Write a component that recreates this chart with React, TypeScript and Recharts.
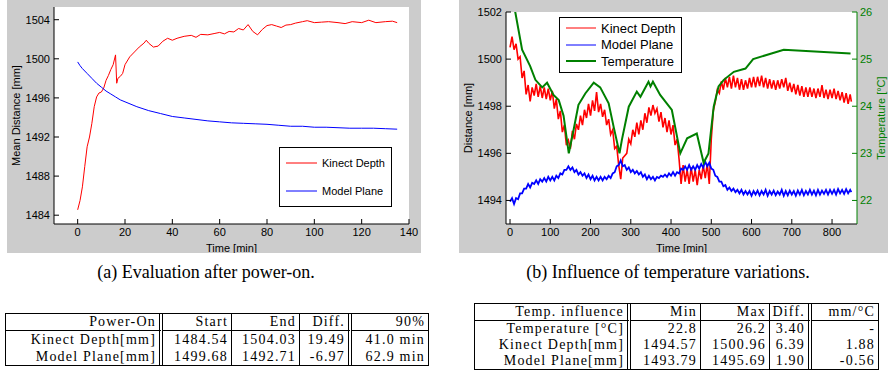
import { LineChart, Line, XAxis, YAxis, Legend } from 'recharts';

// (a) power-on run, [minute, mm]
const powerOnKinect: [number, number][] = [
  [0, 1484.55], [1, 1485.5], [2, 1486.9], [3, 1489.0], [4, 1491.0], [5, 1492.0], [6, 1493.4],
  [7, 1495.1], [8, 1496.1], [9, 1496.5], [10, 1496.6], [11, 1497.0], [12, 1497.8], [13, 1498.3],
  [14, 1498.9], [15, 1499.4], [16, 1500.4], [16.5, 1497.5], [17, 1498.0], [18, 1498.2], [19, 1498.5],
  [20, 1499.4], [22, 1500.2], [24, 1500.7], [26, 1501.2], [28, 1501.6], [29, 1501.9], [30, 1501.6],
  [32, 1501.2], [34, 1501.3], [36, 1501.8], [38, 1502.1], [40, 1501.9], [42, 1502.1], [45, 1502.3],
  [48, 1502.4], [50, 1502.2], [52, 1502.5], [55, 1502.45], [58, 1502.6], [60, 1502.7], [62, 1502.55],
  [64, 1502.8], [66, 1502.75], [68, 1503.1], [70, 1502.95], [72, 1503.5], [74, 1502.8], [76, 1502.45],
  [78, 1503.0], [80, 1503.4], [82, 1503.5], [84, 1503.35], [86, 1503.2], [88, 1503.45], [90, 1503.5],
  [92, 1503.65], [95, 1503.8], [97, 1503.9], [100, 1503.7], [103, 1503.75], [106, 1503.8],
  [110, 1503.7], [113, 1503.6], [116, 1503.8], [120, 1503.7], [123, 1503.95], [126, 1503.7],
  [130, 1503.8], [133, 1503.85], [135, 1503.7],
];

const powerOnModel: [number, number][] = [
  [0, 1499.68], [1, 1499.3], [2, 1499.0], [4, 1498.5], [6, 1498.0], [8, 1497.5], [10, 1497.1],
  [12, 1496.7], [14, 1496.4], [16, 1496.1], [18, 1495.8], [20, 1495.6], [25, 1495.1], [30, 1494.7],
  [35, 1494.4], [40, 1494.1], [45, 1493.95], [50, 1493.8], [55, 1493.65], [60, 1493.55],
  [65, 1493.45], [70, 1493.4], [75, 1493.35], [80, 1493.3], [85, 1493.2], [90, 1493.1],
  [95, 1493.1], [100, 1493.0], [105, 1493.0], [110, 1492.95], [115, 1492.9], [120, 1492.9],
  [125, 1492.9], [130, 1492.85], [135, 1492.8],
];

// (b) temperature run, [minute, mm] and [minute, °C]
const tempKinect: [number, number][] = [
  [0, 1500.5], [5, 1500.95], [10, 1500.4], [15, 1500.65], [20, 1500.0], [25, 1500.1], [30, 1499.2],
  [35, 1499.5], [40, 1498.5], [45, 1498.9], [50, 1498.2], [55, 1498.8], [60, 1498.45], [65, 1498.95],
  [70, 1498.4], [75, 1498.85], [80, 1498.35], [85, 1498.8], [90, 1498.3], [95, 1498.75], [100, 1498.25],
  [105, 1498.65], [110, 1497.9], [115, 1498.3], [120, 1497.45], [125, 1497.8], [130, 1496.9],
  [135, 1497.2], [140, 1496.35], [145, 1496.55], [150, 1496.2], [155, 1496.95], [160, 1496.6],
  [165, 1497.25], [170, 1497.0], [175, 1497.6], [180, 1497.2], [185, 1497.85], [190, 1497.5],
  [195, 1498.1], [200, 1497.6], [205, 1498.25], [210, 1497.8], [215, 1498.6], [220, 1497.75],
  [225, 1498.1], [230, 1497.55], [235, 1497.85], [240, 1497.2], [245, 1497.45], [250, 1496.8],
  [255, 1497.0], [260, 1496.2], [265, 1496.3], [270, 1495.5], [275, 1494.9], [280, 1495.8],
  [285, 1495.9], [290, 1496.0], [295, 1496.6], [300, 1496.4], [305, 1497.0], [310, 1496.7],
  [315, 1497.3], [320, 1496.8], [325, 1497.4], [330, 1497.0], [335, 1497.7], [340, 1497.3],
  [345, 1497.95], [350, 1497.6], [355, 1498.05], [360, 1497.7], [365, 1497.9], [370, 1497.35],
  [375, 1497.75], [380, 1497.1], [385, 1497.5], [390, 1496.9], [395, 1497.4], [400, 1496.8],
  [405, 1497.2], [410, 1496.35], [415, 1496.6], [420, 1495.75], [425, 1494.7], [430, 1495.5],
  [435, 1494.8], [440, 1495.3], [445, 1494.7], [450, 1495.4], [455, 1494.8], [460, 1495.3],
  [465, 1494.65], [470, 1495.3], [475, 1494.9], [480, 1495.5], [485, 1494.95], [490, 1495.55],
  [495, 1494.7], [500, 1496.6], [505, 1497.8], [510, 1498.2], [515, 1498.7], [520, 1498.55],
  [525, 1499.05], [530, 1498.7], [535, 1499.2], [540, 1498.8], [545, 1499.25], [550, 1498.75],
  [555, 1499.3], [560, 1498.8], [565, 1499.2], [570, 1498.7], [575, 1499.15], [580, 1498.7],
  [585, 1499.1], [590, 1498.75], [595, 1499.2], [600, 1498.8], [605, 1499.25], [610, 1498.8],
  [615, 1499.25], [620, 1498.85], [625, 1499.3], [630, 1498.8], [635, 1499.2], [640, 1498.75],
  [645, 1499.15], [650, 1498.75], [655, 1499.1], [660, 1498.7], [665, 1499.1], [670, 1498.75],
  [675, 1499.15], [680, 1498.8], [685, 1499.2], [690, 1498.65], [695, 1499.0], [700, 1498.6],
  [705, 1498.95], [710, 1498.5], [715, 1498.9], [720, 1498.45], [725, 1498.85], [730, 1498.4],
  [735, 1498.8], [740, 1498.4], [745, 1498.8], [750, 1498.4], [755, 1498.75], [760, 1498.35],
  [765, 1498.75], [770, 1498.4], [775, 1498.9], [780, 1498.35], [785, 1498.7], [790, 1498.3],
  [795, 1498.7], [800, 1498.35], [805, 1498.75], [810, 1498.3], [815, 1498.65], [820, 1498.25],
  [825, 1498.6], [830, 1498.15], [835, 1498.55], [840, 1498.1], [845, 1498.5], [848, 1498.2],
];

const tempModel: [number, number][] = [
  [0, 1493.95], [5, 1494.1], [10, 1493.85], [15, 1494.1], [20, 1494.05], [25, 1494.3], [30, 1494.3],
  [35, 1494.5], [40, 1494.5], [45, 1494.7], [50, 1494.55], [55, 1494.75], [60, 1494.7], [65, 1494.85],
  [70, 1494.7], [75, 1494.9], [80, 1494.8], [85, 1494.95], [90, 1494.8], [95, 1495.0], [100, 1494.85],
  [105, 1495.0], [110, 1494.85], [115, 1495.05], [120, 1494.95], [125, 1495.15], [130, 1495.1],
  [135, 1495.3], [140, 1495.3], [145, 1495.45], [150, 1495.3], [155, 1495.4], [160, 1495.2],
  [165, 1495.3], [170, 1495.1], [175, 1495.2], [180, 1495.05], [185, 1495.15], [190, 1494.95],
  [195, 1495.1], [200, 1494.9], [205, 1495.05], [210, 1494.85], [215, 1495.0], [220, 1494.85],
  [225, 1495.0], [230, 1494.85], [235, 1495.0], [240, 1494.9], [245, 1495.05], [250, 1494.95],
  [255, 1495.15], [260, 1495.2], [265, 1495.45], [270, 1495.5], [275, 1495.7], [280, 1495.45],
  [285, 1495.5], [290, 1495.3], [295, 1495.4], [300, 1495.2], [305, 1495.3], [310, 1495.15],
  [315, 1495.25], [320, 1495.1], [325, 1495.2], [330, 1495.0], [335, 1495.1], [340, 1494.9],
  [345, 1495.05], [350, 1494.9], [355, 1495.0], [360, 1494.85], [365, 1495.0], [370, 1494.95],
  [375, 1495.05], [380, 1495.0], [385, 1495.1], [390, 1495.0], [395, 1495.15], [400, 1495.05],
  [405, 1495.2], [410, 1495.05], [415, 1495.2], [420, 1495.15], [425, 1495.35], [430, 1495.3],
  [435, 1495.45], [440, 1495.3], [445, 1495.5], [450, 1495.3], [455, 1495.45], [460, 1495.3],
  [465, 1495.5], [470, 1495.35], [475, 1495.55], [480, 1495.4], [485, 1495.65], [490, 1495.45],
  [495, 1495.6], [500, 1495.35], [505, 1495.3], [510, 1495.05], [515, 1495.0], [520, 1494.8],
  [525, 1494.8], [530, 1494.6], [535, 1494.65], [540, 1494.45], [545, 1494.55], [550, 1494.4],
  [555, 1494.5], [560, 1494.35], [565, 1494.45], [570, 1494.3], [575, 1494.45], [580, 1494.25],
  [585, 1494.4], [590, 1494.25], [595, 1494.4], [600, 1494.2], [605, 1494.4], [610, 1494.25],
  [615, 1494.42], [620, 1494.22], [625, 1494.4], [630, 1494.25], [635, 1494.45], [640, 1494.2],
  [645, 1494.4], [650, 1494.25], [655, 1494.42], [660, 1494.22], [665, 1494.38], [670, 1494.25],
  [675, 1494.45], [680, 1494.2], [685, 1494.4], [690, 1494.22], [695, 1494.42], [700, 1494.25],
  [705, 1494.4], [710, 1494.2], [715, 1494.42], [720, 1494.25], [725, 1494.45], [730, 1494.22],
  [735, 1494.4], [740, 1494.25], [745, 1494.45], [750, 1494.25], [755, 1494.42], [760, 1494.22],
  [765, 1494.45], [770, 1494.25], [775, 1494.42], [780, 1494.28], [785, 1494.45], [790, 1494.25],
  [795, 1494.45], [800, 1494.28], [805, 1494.45], [810, 1494.25], [815, 1494.48], [820, 1494.3],
  [825, 1494.45], [830, 1494.28], [835, 1494.48], [840, 1494.3], [845, 1494.45], [848, 1494.35],
];

const tempAir: [number, number][] = [
  [0, 26.2], [13, 26.0], [30, 25.2], [50, 24.85], [63, 24.56], [80, 24.4], [92, 24.5], [108, 24.24],
  [121, 24.13], [133, 23.8], [146, 23.0], [158, 23.5], [170, 24.03], [187, 24.27], [208, 24.5],
  [224, 24.4], [245, 24.06], [258, 23.54], [272, 23.0], [278, 23.29], [295, 23.99], [315, 24.31],
  [324, 24.2], [344, 24.52], [349, 24.42], [355, 24.52], [373, 24.24], [402, 23.92], [423, 23.0],
  [440, 23.32], [464, 23.42], [481, 22.8], [493, 23.0], [506, 23.99], [518, 24.42], [531, 24.56],
  [556, 24.73], [585, 24.8], [604, 25.0], [680, 25.2], [846, 25.12],
];

const powerOnXTicks = [0, 20, 40, 60, 80, 100, 120, 140];
const powerOnYTicks = [1484, 1488, 1492, 1496, 1500, 1504];
const tempXTicks = [0, 100, 200, 300, 400, 500, 600, 700, 800];
const tempDistTicks = [1494, 1496, 1498, 1500, 1502];
const tempDegTicks = [22, 23, 24, 25, 26];

const powerOnHeader = ['Power-On', 'Start', 'End', 'Diff.', '90%'];
const powerOnRows = [
  ['Kinect Depth[mm]', '1484.54', '1504.03', '19.49', '41.0 min'],
  ['Model Plane[mm]', '1499.68', '1492.71', '-6.97', '62.9 min'],
];
const tempHeader = ['Temp. influence', 'Min', 'Max', 'Diff.', 'mm/°C'];
const tempRows = [
  ['Temperature [°C]', '22.8', '26.2', '3.40', '-'],
  ['Kinect Depth[mm]', '1494.57', '1500.96', '6.39', '1.88'],
  ['Model Plane[mm]', '1493.79', '1495.69', '1.90', '-0.56'],
];

const RED = '#ff0000';
const BLUE = '#0000ff';
const GREEN = '#008000';
const SANS = '"Liberation Sans", Arial, sans-serif';
const SERIF = '"Liberation Serif", "Times New Roman", serif';

const toRows = (pts: [number, number][]) => pts.map(([t, v]) => ({ t, v }));
const blank = () => '';
const tickFont = { fontSize: 11, fontFamily: SANS };

type LegendItem = { name: string; color: string; width: number };

const LegendBox = ({ items, rowHeight, fontSize, padTop, lineLen }: {
  items: LegendItem[]; rowHeight: number; fontSize: number; padTop: number; lineLen: number;
}) => (
  <div style={{ border: '1px solid #000', background: '#fff', padding: `${padTop}px 6px ${padTop}px 6px`, fontFamily: SANS, fontSize }}>
    {items.map((it) => (
      <div key={it.name} style={{ display: 'flex', alignItems: 'center', height: rowHeight, whiteSpace: 'nowrap' }}>
        <svg width={lineLen} height={4} style={{ marginRight: 5 }}>
          <line x1={0} y1={2} x2={lineLen} y2={2} stroke={it.color} strokeWidth={it.width} />
        </svg>
        <span>{it.name}</span>
      </div>
    ))}
  </div>
);

const PowerOnChart = () => (
  <LineChart width={414} height={253} margin={{ top: 7, right: 12, bottom: 0, left: 0 }}>
    <XAxis xAxisId="b" type="number" dataKey="t" domain={[-10, 140]} ticks={powerOnXTicks} allowDataOverflow
      stroke="#000" tickSize={-5} tickMargin={9} height={29} tick={{ ...tickFont, fill: '#000' }}
      label={{ value: 'Time [min]', position: 'insideBottom', offset: 1, style: { ...tickFont, fill: '#000' } }} />
    <XAxis xAxisId="top" orientation="top" type="number" dataKey="t" domain={[-10, 140]} ticks={powerOnXTicks}
      allowDataOverflow stroke="#000" tickSize={-5} height={0} tickFormatter={blank} />
    <YAxis yAxisId="l" type="number" domain={[1483.1, 1505.3]} ticks={powerOnYTicks} allowDataOverflow
      stroke="#000" tickSize={-5} tickMargin={9} width={47} tick={{ ...tickFont, fill: '#000' }}
      label={{ value: 'Mean Distance [mm]', angle: -90, position: 'insideLeft', offset: 9, style: { ...tickFont, fill: '#000', textAnchor: 'middle' } }} />
    <YAxis yAxisId="r" orientation="right" type="number" domain={[1483.1, 1505.3]} ticks={powerOnYTicks}
      allowDataOverflow stroke="#000" tickSize={-5} width={0} tickFormatter={blank} />
    <Legend layout="horizontal" verticalAlign="middle" align="center"
      wrapperStyle={{ left: 272, top: 147, width: 'auto', height: 'auto' }}
      content={() => (
        <LegendBox rowHeight={28} fontSize={11} padTop={1} lineLen={31}
          items={[{ name: 'Kinect Depth', color: RED, width: 1 }, { name: 'Model Plane', color: BLUE, width: 1 }]} />
      )} />
    <Line xAxisId="b" yAxisId="l" data={toRows(powerOnKinect)} dataKey="v" name="Kinect Depth" stroke={RED}
      strokeWidth={1} dot={false} isAnimationActive={false} />
    <Line xAxisId="b" yAxisId="l" data={toRows(powerOnModel)} dataKey="v" name="Model Plane" stroke={BLUE}
      strokeWidth={1} dot={false} isAnimationActive={false} />
  </LineChart>
);

const TemperatureChart = () => (
  <LineChart width={429} height={253} margin={{ top: 12, right: 0, bottom: 0, left: 0 }}>
    <XAxis xAxisId="b" type="number" dataKey="t" domain={[-10, 862]} ticks={tempXTicks} allowDataOverflow
      stroke="#000" tickSize={-5} tickMargin={9} height={29} tick={{ ...tickFont, fill: '#000' }}
      label={{ value: 'Time [min]', position: 'insideBottom', offset: 1, style: { ...tickFont, fill: '#000' } }} />
    <XAxis xAxisId="top" orientation="top" type="number" dataKey="t" domain={[-10, 862]} ticks={tempXTicks}
      allowDataOverflow stroke="#000" tickSize={-5} height={0} tickFormatter={blank} />
    <YAxis yAxisId="mm" type="number" domain={[1493, 1502]} ticks={tempDistTicks} allowDataOverflow
      stroke="#000" tickSize={-5} tickMargin={9} width={47} tick={{ ...tickFont, fill: '#000' }}
      label={{ value: 'Distance [mm]', angle: -90, position: 'insideLeft', offset: 9, style: { ...tickFont, fill: '#000', textAnchor: 'middle' } }} />
    <YAxis yAxisId="deg" orientation="right" type="number" domain={[21.5, 26]} ticks={tempDegTicks} allowDataOverflow
      stroke={GREEN} tickSize={-5} tickMargin={8} width={31} tick={{ ...tickFont, fill: GREEN }}
      label={{ value: 'Temperature [°C]', angle: -90, position: 'insideRight', offset: 7, style: { ...tickFont, fill: GREEN, textAnchor: 'middle' } }} />
    <Legend layout="horizontal" verticalAlign="middle" align="center"
      wrapperStyle={{ left: 100, top: 17, width: 'auto', height: 'auto' }}
      content={() => (
        <LegendBox rowHeight={16.5} fontSize={13} padTop={2} lineLen={30}
          items={[
            { name: 'Kinect Depth', color: RED, width: 1 },
            { name: 'Model Plane', color: BLUE, width: 1 },
            { name: 'Temperature', color: GREEN, width: 2 },
          ]} />
      )} />
    <Line xAxisId="b" yAxisId="mm" data={toRows(tempKinect)} dataKey="v" name="Kinect Depth" stroke={RED}
      strokeWidth={1.6} dot={false} isAnimationActive={false} />
    <Line xAxisId="b" yAxisId="mm" data={toRows(tempModel)} dataKey="v" name="Model Plane" stroke={BLUE}
      strokeWidth={1.8} dot={false} isAnimationActive={false} />
    <Line xAxisId="b" yAxisId="deg" data={toRows(tempAir)} dataKey="v" name="Temperature" stroke={GREEN}
      strokeWidth={2} dot={false} isAnimationActive={false} />
  </LineChart>
);

const ResultTable = ({ header, rows, widths, doubles, rowHeight, headHeight }: {
  header: string[]; rows: string[][]; widths: number[]; doubles: number[]; rowHeight: number; headHeight: number;
}) => {
  const cell = (i: number, head: boolean, h: number): React.CSSProperties => ({
    padding: '0 3px 0 2px',
    height: h,
    lineHeight: `${h}px`,
    textAlign: 'right',
    whiteSpace: 'nowrap',
    borderRight: i === widths.length - 1 ? 'none' : doubles.includes(i) ? '4px double #000' : '1px solid #000',
    borderBottom: head ? '1px solid #000' : 'none',
  });
  return (
    <table style={{ borderCollapse: 'separate', borderSpacing: 0, border: '1px solid #000', tableLayout: 'fixed',
      width: widths.reduce((a, b) => a + b, 0), fontFamily: SERIF, fontSize: 14, letterSpacing: 1.2 }}>
      <colgroup>{widths.map((w, i) => <col key={i} style={{ width: w }} />)}</colgroup>
      <thead>
        <tr>{header.map((h, i) => <th key={i} style={{ ...cell(i, true, headHeight), fontWeight: 'normal' }}>{h}</th>)}</tr>
      </thead>
      <tbody>
        {rows.map((r, j) => (
          <tr key={j}>{r.map((c, i) => <td key={i} style={cell(i, false, rowHeight)}>{c}</td>)}</tr>
        ))}
      </tbody>
    </table>
  );
};

export default function App() {
  return (
    <div style={{ position: 'relative', width: 888, height: 376, background: '#fff', overflow: 'hidden' }}>
      <style>{'body{margin:0}'}</style>
      <div style={{ position: 'absolute', left: 7, top: 0, width: 414, height: 253, background: '#cccccc' }}>
        <div style={{ position: 'absolute', left: 47, top: 7, width: 355, height: 217, background: '#fff' }} />
        <PowerOnChart />
      </div>
      <div style={{ position: 'absolute', left: 459, top: 0, width: 429, height: 253, background: '#cccccc' }}>
        <div style={{ position: 'absolute', left: 47, top: 12, width: 351, height: 212, background: '#fff' }} />
        <TemperatureChart />
      </div>
      <div style={{ position: 'absolute', left: 0, top: 261, width: 412, textAlign: 'center', fontFamily: SERIF, fontSize: 18, lineHeight: '22px' }}>
        (a) Evaluation after power-on.
      </div>
      <div style={{ position: 'absolute', left: 450, top: 261, width: 436, textAlign: 'center', fontFamily: SERIF, fontSize: 18, lineHeight: '22px' }}>
        (b) Influence of temperature variations.
      </div>
      <div style={{ position: 'absolute', left: 5, top: 313 }}>
        <ResultTable header={powerOnHeader} rows={powerOnRows} widths={[157, 69, 68, 52, 76]} doubles={[0, 3]}
          rowHeight={17} headHeight={16} />
      </div>
      <div style={{ position: 'absolute', left: 474, top: 303 }}>
        <ResultTable header={tempHeader} rows={tempRows} widths={[156, 70, 69, 42, 66]} doubles={[0, 3]}
          rowHeight={16} headHeight={16} />
      </div>
    </div>
  );
}
